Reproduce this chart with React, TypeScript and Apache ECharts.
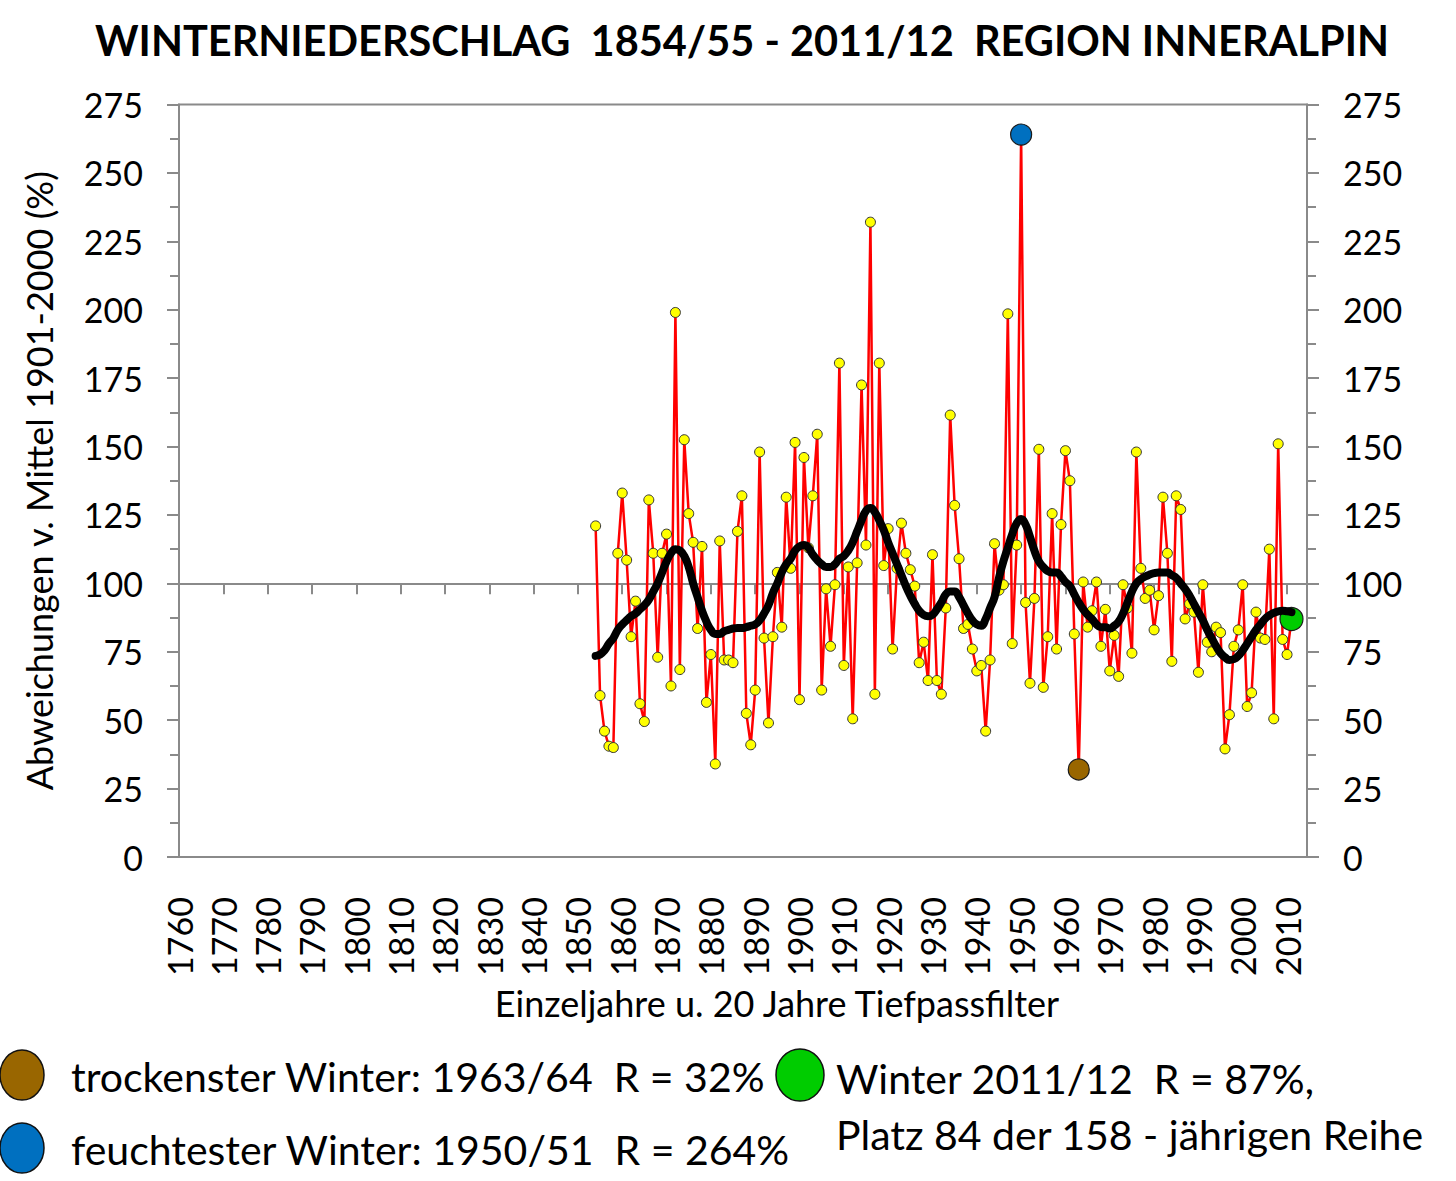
import React, { useEffect, useRef } from "react";
import * as echarts from "echarts";

const firstYear = 1854;
const precipitation: number[] = [
  121, 59, 46, 40.5, 40, 111, 133, 108.5, 80.5, 93.5, // 1854-1863
  56, 49.5, 130.5, 111, 73, 111, 118, 62.5, 199, 68.5, // 1864-1873
  152.5, 125.5, 115, 83.5, 113.5, 56.5, 74, 34, 115.5, 72, // 1874-1883
  72, 71, 119, 132, 52.5, 41, 61, 148, 80, 49, // 1884-1893
  80.5, 104, 84, 131.5, 105.5, 151.5, 57.5, 146, 113, 132, // 1894-1903
  154.5, 61, 98, 77, 99.5, 180.5, 70, 106, 50.5, 107.5, // 1904-1913
  172.5, 114, 232, 59.5, 180.5, 106.5, 120, 76, 105.5, 122, // 1914-1923
  111, 105, 99, 71, 78.5, 64.5, 110.5, 64.5, 59.5, 91, // 1924-1933
  161.5, 128.5, 109, 83.5, 85, 76, 68, 70, 46, 72, // 1934-1943
  114.5, 97.5, 99.5, 198.5, 78, 114, 264, 93, 63.5, 94.5, // 1944-1953
  149, 62, 80.5, 125.5, 76, 121.5, 148.5, 137.5, 81.5, 32, // 1954-1963
  100.5, 84, 90, 100.5, 77, 90.5, 68, 81, 66, 99.5, // 1964-1973
  91, 74.5, 148, 105.5, 94.5, 97.5, 83, 95.5, 131.5, 111, // 1974-1983
  71.5, 132, 127, 87, 92.5, 89.5, 67.5, 99.5, 78.5, 75, // 1984-1993
  84, 82, 39.5, 52, 77, 83, 99.5, 55, 60, 89.5, // 1994-2003
  80, 79.5, 112.5, 50.5, 151, 79.5, 74, 87, // 2004-2011
];
const lowPass: number[] = [
  73.5, 74, 75.5, 78, 80, 83, 85, 86.5, 88, 89, // 1854-1863
  90.5, 92, 94, 97, 100, 104, 108, 111, 112.5, 112, // 1864-1873
  110, 106, 100, 95, 90, 86, 83, 81.5, 81.5, 82.5, // 1874-1883
  83, 83.5, 83.7, 83.7, 84, 84.5, 85, 86.5, 89, 92, // 1884-1893
  96.5, 100, 104, 107, 109, 112, 113.5, 114, 113, 110.5, // 1894-1903
  108.5, 107, 106, 106, 107, 109, 110, 112, 115, 119, // 1904-1913
  123, 126.5, 127.5, 126, 123, 119.5, 115, 111, 107, 103, // 1914-1923
  99, 95.5, 92.5, 90, 88.5, 88, 88.5, 90.5, 93, 96, // 1924-1933
  97, 97, 95, 92, 89, 86.5, 85, 84.5, 87, 91, // 1934-1943
  95, 102, 108, 113, 118, 122, 123.5, 121.5, 117, 112, // 1944-1953
  108, 106, 104.5, 104, 104, 102.5, 100.5, 99, 96, 93, // 1954-1963
  90.5, 88.5, 87, 85, 84, 84, 83.5, 84.5, 86, 89, // 1964-1973
  93, 97, 100, 101.5, 102.5, 103.2, 103.7, 104, 104, 104, // 1974-1983
  103, 102, 100, 98, 95.5, 92.5, 89.5, 86.5, 83, 80, // 1984-1993
  77, 74.5, 73, 72, 72.3, 73.5, 75.5, 78, 80.5, 83, // 1994-2003
  85, 87, 88.3, 89.2, 89.8, 90, 89.8, 89.5, // 2004-2011
];
const xTickYears: number[] = [
  1760, 1770, 1780, 1790, 1800, 1810, 1820, 1830, 1840, 1850, 1860, 1870, 1880,
  1890, 1900, 1910, 1920, 1930, 1940, 1950, 1960, 1970, 1980, 1990, 2000, 2010,
];
const driestYear = 1963;
const wettestYear = 1950;
const currentYear = 2011;

const titleText = "WINTERNIEDERSCHLAG  1854/55 - 2011/12  REGION INNERALPIN";
const yAxisTitle = "Abweichungen v. Mittel 1901-2000 (%)";
const xAxisTitle = "Einzeljahre u. 20 Jahre Tiefpassfilter";
const legendDry = "trockenster Winter: 1963/64  R = 32%";
const legendWet = "feuchtester Winter: 1950/51  R = 264%";
const legendNow1 = "Winter 2011/12  R = 87%,";
const legendNow2 = "Platz 84 der 158 - jährigen Reihe";

const FONT = "Lato, 'Open Sans', sans-serif";
const AXIS_GRAY = "#8a8a8a";

export default function App() {
  const ref = useRef<HTMLDivElement>(null);
  useEffect(() => {
    if (!ref.current) return;
    const chart = echarts.init(ref.current, null, { renderer: "svg" });

    const gridTop = 104.5;
    const gridBottomPx = 857;
    const gridH = gridBottomPx - gridTop;
    const line100Offset = -(gridH * 100) / 275;

    const mainData = precipitation.map((v, i) => {
      const yr = firstYear + i;
      if (yr === wettestYear)
        return { value: [yr, v], symbolSize: 21, itemStyle: { color: "#0070c0", borderColor: "#1a1a1a", borderWidth: 1.2 } };
      if (yr === driestYear)
        return { value: [yr, v], symbolSize: 21, itemStyle: { color: "#996600", borderColor: "#1a1a1a", borderWidth: 1.2 } };
      if (yr === currentYear)
        return { value: [yr, v], symbolSize: 23, itemStyle: { color: "#00cc00", borderColor: "#1a1a1a", borderWidth: 1.2 } };
      return { value: [yr, v] };
    });
    const smoothData = lowPass.map((v, i) => [firstYear + i, v]);

    const yAxisCommon = {
      type: "value",
      min: 0,
      max: 275,
      interval: 25,
      splitLine: { show: false },
      axisLine: { show: true, lineStyle: { color: AXIS_GRAY, width: 2 } },
      axisTick: { show: true, length: 12, lineStyle: { color: AXIS_GRAY, width: 2 } },
      minorTick: { show: true, splitNumber: 2, length: 9, lineStyle: { color: AXIS_GRAY, width: 2 } },
      axisLabel: { fontSize: 34, color: "#000", fontFamily: FONT, margin: 36 },
    };

    chart.setOption({
      animation: false,
      backgroundColor: "#ffffff",
      grid: {
        left: 179,
        right: 149,
        top: gridTop,
        bottom: 1181 - gridBottomPx,
        show: true,
        borderColor: AXIS_GRAY,
        borderWidth: 2,
        backgroundColor: "transparent",
      },
      xAxis: [
        {
          type: "value",
          min: 1760,
          max: 2014.5,
          position: "bottom",
          splitLine: { show: false },
          axisLine: { show: true, lineStyle: { color: AXIS_GRAY, width: 2 } },
          axisTick: { show: false },
          axisLabel: {
            rotate: 90,
            fontSize: 34,
            color: "#000",
            fontFamily: FONT,
            margin: 40,
            customValues: xTickYears,
            formatter: (v: number) => String(v),
          },
          name: xAxisTitle,
          nameLocation: "middle",
          nameGap: 128,
          nameTextStyle: { fontSize: 36, color: "#000", fontFamily: FONT, padding: [0, 0, 0, 68] },
        },
        {
          type: "value",
          min: 1760,
          max: 2014.5,
          position: "bottom",
          offset: line100Offset,
          splitLine: { show: false },
          axisLine: { show: true, lineStyle: { color: AXIS_GRAY, width: 2 } },
          axisTick: { show: true, length: 11, customValues: xTickYears, lineStyle: { color: AXIS_GRAY, width: 2 } },
          axisLabel: { show: false },
        },
      ],
      yAxis: [
        {
          ...yAxisCommon,
          position: "left",
          name: yAxisTitle,
          nameLocation: "middle",
          nameGap: 122,
          nameRotate: 90,
          nameTextStyle: { fontSize: 36, color: "#000", fontFamily: FONT },
        },
        { ...yAxisCommon, position: "right" },
      ],
      series: [
        {
          type: "line",
          xAxisIndex: 0,
          yAxisIndex: 0,
          data: mainData,
          symbol: "circle",
          symbolSize: 10,
          showAllSymbol: true,
          lineStyle: { color: "#ff0000", width: 2.5 },
          itemStyle: { color: "#ffff00", borderColor: "#333333", borderWidth: 1 },
          z: 2,
        },
        {
          type: "line",
          xAxisIndex: 0,
          yAxisIndex: 0,
          data: smoothData,
          smooth: true,
          symbol: "none",
          lineStyle: { color: "#000000", width: 8, cap: "round" },
          z: 3,
        },
      ],
      graphic: [
        {
          type: "text",
          x: 742,
          y: 40,
          style: {
            text: titleText,
            fontSize: 41.5,
            fontWeight: "bold",
            fontFamily: FONT,
            fill: "#000",
            align: "center",
            verticalAlign: "middle",
          },
        },
        {
          type: "ellipse",
          shape: { cx: 22, cy: 1075, rx: 22, ry: 25 },
          style: { fill: "#996600", stroke: "#111", lineWidth: 1.5 },
        },
        {
          type: "ellipse",
          shape: { cx: 22, cy: 1148, rx: 22, ry: 25 },
          style: { fill: "#0070c0", stroke: "#111", lineWidth: 1.5 },
        },
        {
          type: "ellipse",
          shape: { cx: 800, cy: 1075, rx: 24, ry: 26 },
          style: { fill: "#00cc00", stroke: "#111", lineWidth: 1.5 },
        },
        {
          type: "text",
          x: 71,
          y: 1076,
          style: { text: legendDry, fontSize: 41, fontFamily: FONT, fill: "#000", align: "left", verticalAlign: "middle" },
        },
        {
          type: "text",
          x: 71,
          y: 1149,
          style: { text: legendWet, fontSize: 41, fontFamily: FONT, fill: "#000", align: "left", verticalAlign: "middle" },
        },
        {
          type: "text",
          x: 836,
          y: 1078,
          style: { text: legendNow1, fontSize: 41, fontFamily: FONT, fill: "#000", align: "left", verticalAlign: "middle" },
        },
        {
          type: "text",
          x: 836,
          y: 1134,
          style: { text: legendNow2, fontSize: 41, fontFamily: FONT, fill: "#000", align: "left", verticalAlign: "middle" },
        },
      ],
    });
    return () => chart.dispose();
  }, []);
  return (
    <div
      ref={ref}
      style={{ position: "fixed", left: 0, top: 0, width: 1456, height: 1181, background: "#fff" }}
    />
  );
}
